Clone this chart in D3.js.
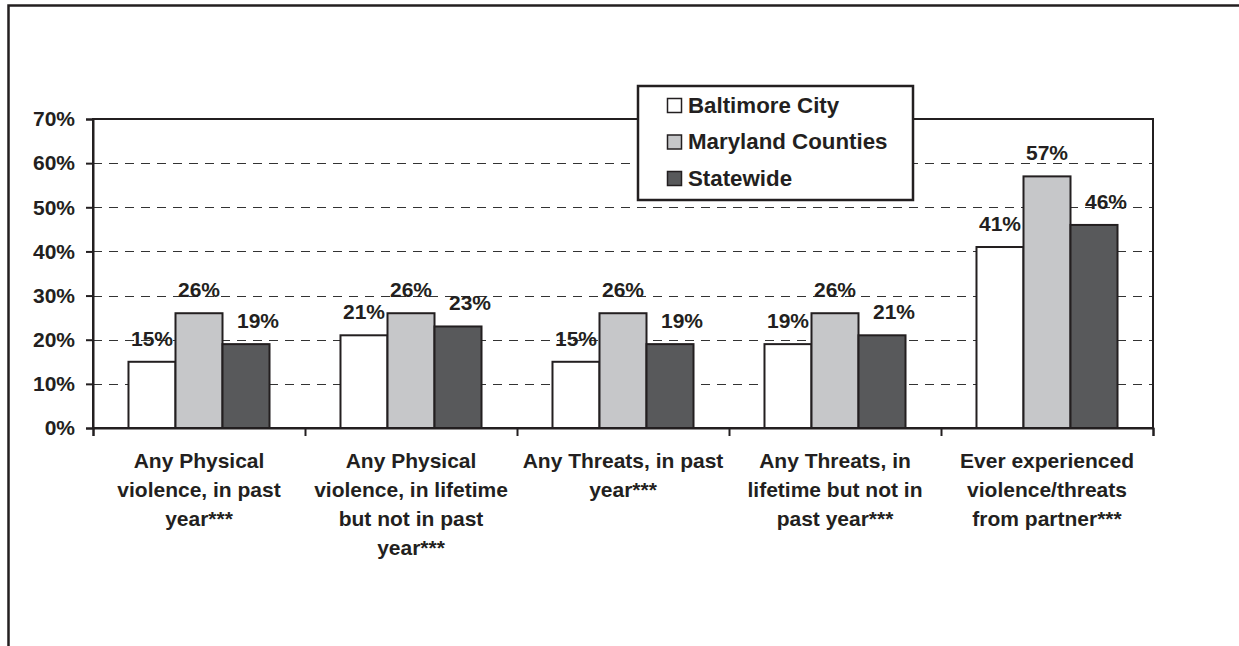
<!DOCTYPE html>
<html>
<head>
<meta charset="utf-8">
<script src="https://cdn.jsdelivr.net/npm/d3@7/dist/d3.min.js"></script>
<style>
  html, body { margin: 0; padding: 0; background: #fff; }
  svg { display: block; }
  text { font-family: "Liberation Sans", Arial, sans-serif; font-weight: bold; fill: #231f20; }
</style>
</head>
<body>
<svg id="chart" width="1239" height="646"></svg>
<script>
// Category labels, one entry per line of text
const categoryLines = [
  ["Any Physical", "violence, in past", "year***"],
  ["Any Physical", "violence, in lifetime", "but not in past", "year***"],
  ["Any Threats, in past", "year***"],
  ["Any Threats, in", "lifetime but not in", "past year***"],
  ["Ever experienced", "violence/threats", "from partner***"]
];
const categories = categoryLines.map(l => l.join(" "));
const seriesNames = ["Baltimore City", "Maryland Counties", "Statewide"];
const baltimoreCity = [15, 21, 15, 19, 41];
const marylandCounties = [26, 26, 26, 26, 57];
const statewide = [19, 23, 19, 21, 46];
const yTicks = [0, 10, 20, 30, 40, 50, 60, 70];

const seriesValues = [baltimoreCity, marylandCounties, statewide];
const fills = ["#ffffff", "#c6c7c9", "#58595b"];
const labelShift = [0, 0, 12];          // horizontal nudge of value labels per series
const ink = "#231f20";

const svg = d3.select("#chart");

// outer frame
svg.append("rect")
  .attr("x", 8.5).attr("y", 5.5)
  .attr("width", 1300).attr("height", 700)
  .attr("fill", "none").attr("stroke", ink).attr("stroke-width", 2.5);

const plot = { left: 93, right: 1153, top: 119, bottom: 428 };

const y = d3.scaleLinear().domain([0, 70]).range([plot.bottom, plot.top]);
const x0 = d3.scaleBand().domain(categories).range([plot.left, plot.right]).padding(0);
const x1 = d3.scaleBand().domain(seriesNames).range([0, x0.bandwidth()])
  .paddingInner(0).paddingOuter(0.755);

// dashed gridlines
svg.append("g").selectAll("line")
  .data(yTicks.filter(t => t > 0 && t < 70))
  .join("line")
  .attr("x1", plot.left).attr("x2", plot.right)
  .attr("y1", d => Math.round(y(d)) + 0.5).attr("y2", d => Math.round(y(d)) + 0.5)
  .attr("stroke", "#333").attr("stroke-width", 1)
  .attr("stroke-dasharray", "9,7");

// bars
const rows = categories.map((c, i) => ({
  category: c,
  items: seriesNames.map((s, j) => ({ series: s, j, value: seriesValues[j][i] }))
}));

const groups = svg.append("g").selectAll("g")
  .data(rows).join("g")
  .attr("transform", d => `translate(${x0(d.category)},0)`);

groups.selectAll("rect")
  .data(d => d.items).join("rect")
  .attr("x", d => x1(d.series))
  .attr("y", d => y(d.value))
  .attr("width", x1.bandwidth())
  .attr("height", d => y(0) - y(d.value))
  .attr("fill", d => fills[d.j])
  .attr("stroke", ink).attr("stroke-width", 2);

groups.selectAll("text.value")
  .data(d => d.items).join("text")
  .attr("class", "value")
  .attr("x", d => x1(d.series) + x1.bandwidth() / 2 + labelShift[d.j])
  .attr("y", d => y(d.value) - 16)
  .attr("text-anchor", "middle")
  .style("font-size", "21px")
  .text(d => d.value + "%");

// plot border
svg.append("rect")
  .attr("x", plot.left).attr("y", plot.top)
  .attr("width", plot.right - plot.left).attr("height", plot.bottom - plot.top)
  .attr("fill", "none").attr("stroke", ink).attr("stroke-width", 2);

// y axis
const yAxis = svg.append("g")
  .attr("transform", `translate(${plot.left},0)`)
  .call(d3.axisLeft(y).tickValues(yTicks).tickFormat(d => d + "%").tickSize(7).tickPadding(11));
yAxis.select(".domain").attr("stroke", ink).attr("stroke-width", 2);
yAxis.selectAll(".tick line").attr("stroke", ink).attr("stroke-width", 2);
yAxis.selectAll(".tick text")
  .attr("font-family", null).attr("font-size", null)
  .style("font-size", "21px").attr("fill", ink);

// x axis: ticks at category boundaries
const xEdges = d3.scaleLinear().domain([0, categories.length]).range([plot.left, plot.right]);
const xAxis = svg.append("g")
  .attr("transform", `translate(0,${plot.bottom})`)
  .call(d3.axisBottom(xEdges).ticks(categories.length).tickFormat("").tickSize(8));
xAxis.select(".domain").attr("stroke", ink).attr("stroke-width", 2);
xAxis.selectAll(".tick line").attr("stroke", ink).attr("stroke-width", 2);

// category labels
const catLabels = svg.append("g").selectAll("text")
  .data(categoryLines).join("text")
  .attr("text-anchor", "middle")
  .style("font-size", "21px")
  .attr("transform", (d, i) => `translate(${x0(categories[i]) + x0.bandwidth() / 2},0)`);
catLabels.selectAll("tspan")
  .data(d => d).join("tspan")
  .attr("x", 0)
  .attr("y", (d, k) => 468 + k * 29)
  .text(d => d);

// legend
const legend = svg.append("g");
legend.append("rect")
  .attr("x", 638).attr("y", 86).attr("width", 275).attr("height", 114)
  .attr("fill", "#fff").attr("stroke", ink).attr("stroke-width", 2.5);
const items = legend.selectAll("g.item")
  .data(seriesNames).join("g")
  .attr("class", "item")
  .attr("transform", (d, i) => `translate(667,${98 + i * 36.5})`);
items.append("rect")
  .attr("x", 0.5).attr("y", 0.5).attr("width", 14).attr("height", 14)
  .attr("fill", (d, i) => fills[i]).attr("stroke", ink).attr("stroke-width", 1.5);
items.append("text")
  .attr("x", 21).attr("y", 14.5)
  .style("font-size", "22.3px")
  .text(d => d);
</script>
</body>
</html>
